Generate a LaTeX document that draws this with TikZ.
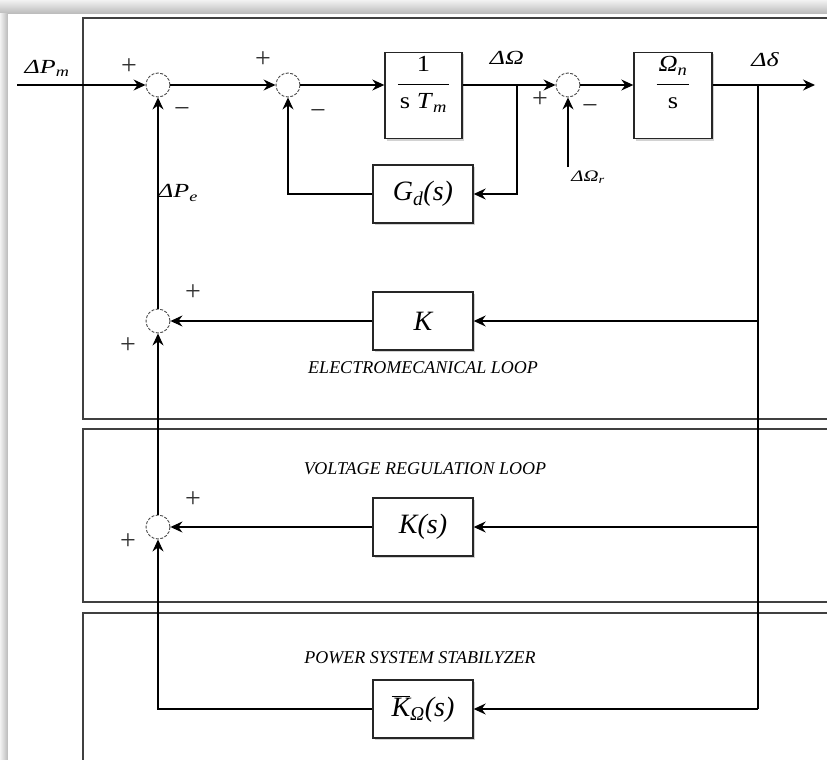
\documentclass[tikz,border=0pt]{standalone}
\usepackage{fontspec}
\setmainfont{Liberation Serif}
\newfontfamily\widefont[FakeStretch=1.3]{Liberation Serif}
\newfontfamily\midfont[FakeStretch=1.15]{Liberation Serif}
\usetikzlibrary{
  arrows.meta,   % Stealth tips
  calc,          % coordinate calculations
  positioning,   % relative placement
  shadows        % block shadows
}
\tikzset{
  block/.style={
    draw=black!85,
    line width=1.4pt,
    fill=white,
    minimum width=100pt,
    minimum height=58pt,
    inner sep=0pt,
    font=\fontsize{28}{30}\selectfont\itshape,
    drop shadow={shadow xshift=2pt, shadow yshift=-2pt, opacity=0.35}
  },
  frac text/.style={
    font=\midfont\fontsize{23}{25}\selectfont,
    inner sep=0pt
  },
  sumnode/.style={
    circle,
    draw=gray!60!black,
    dash pattern=on 3pt off 1.5pt,
    line width=0.9pt,
    minimum size=24pt,
    inner sep=0pt
  },
  signal/.style={
    -{Stealth[length=12pt, width=11pt, inset=4pt]},
    line width=1.2pt
  },
  wire/.style={
    line width=1.2pt
  },
  panel/.style={
    draw=black!75,
    line width=1.8pt
  },
  sign/.style={
    font=\fontsize{28}{28}\selectfont,
    text=black!80,
    inner sep=0pt
  },
  sig label/.style={
    font=\widefont\fontsize{20}{20}\selectfont\itshape,
    inner sep=0pt
  },
  loop label/.style={
    font=\fontsize{18}{18}\selectfont\itshape,
    inner sep=0pt
  }
}

\begin{document}
\begin{tikzpicture}[x=10pt, y=-10pt]

  \useasboundingbox (0,0) rectangle (82.7,76.0);

  % ======================= frame and panels =======================
  \fill[gray!30] (0,0) rectangle (82.7,76.0);
  \shade[top color=gray!10, bottom color=gray!55] (0,0) rectangle (82.7,1.4);
  \shade[left color=gray!10, right color=gray!55] (0,1.4) rectangle (0.8,76.0);
  \fill[white] (0.8,1.4) rectangle (82.7,76.0);

  \draw[panel] (8.3,1.8) rectangle (84,41.9);   % electromecanical loop
  \draw[panel] (8.3,42.9) rectangle (84,60.2);  % voltage regulation loop
  \draw[panel] (8.3,61.3) rectangle (84,78);    % power system stabilyzer

  % ======================= summing points =======================
  \node[sumnode] (s1) at (15.8,8.5) {};
  \node[sumnode] (s2) at (28.8,8.5) {};
  \node[sumnode] (s3) at (56.8,8.5) {};
  \node[sumnode] (s4) at (15.8,32.1) {};
  \node[sumnode] (s5) at (15.8,52.7) {};

  % ======================= blocks =======================
  \node[block, minimum width=77pt, minimum height=86pt] (b1) at (42.35,9.55) {};
  \node[block, minimum width=78pt, minimum height=86pt] (b2) at (67.3,9.55) {};
  \node[frac text] (b1txt) at (b1 |- s1)
    {\begin{tabular}{@{\hspace{2pt}}c@{\hspace{2pt}}}1\\[5pt]\hline\rule{0pt}{24pt}s \textit{T}\textsubscript{\textit{m}}\end{tabular}};
  \node[frac text] (b2txt) at (b2 |- s1)
    {\begin{tabular}{@{\hspace{2pt}}c@{\hspace{2pt}}}\textit{Ω}\textsubscript{\textit{n}}\\[5pt]\hline\rule{0pt}{24pt}s\end{tabular}};
  \node[block] (gd) at (42.3,19.4) {G\textsubscript{d}(s)};
  \node[block] (k)  at (42.3,32.1) {K};
  \node[block] (ks) at (42.3,52.7) {K(s)};
  \node[block] (kw) at (42.3,70.9) {$\overline{\mbox{\itshape K}}$\textsubscript{Ω}(s)};

  % free ends and branch points
  \coordinate (in)  at (1.7,8.5);
  \coordinate (out) at (81.5,8.5);
  \coordinate (brw) at (51.7,8.5);   % branch of delta Omega
  \coordinate (brd) at (75.8,8.5);   % branch of delta delta
  \coordinate (wr)  at (56.8,16.7);  % reference speed input

  % ======================= forward path =======================
  \draw[signal] (in) -- (s1);
  \draw[signal] (s1) -- (s2);
  \draw[signal] (s2) -- (s2 -| b1.west);
  \draw[wire] (s2 -| b1.east) -- (brw);
  \draw[signal] (brw) -- (s3);
  \draw[signal] (s3) -- (s3 -| b2.west);
  \draw[signal] (s3 -| b2.east) -- (out);
  \draw[signal] (wr) -- (s3);

  % damping loop
  \draw[signal] (brw) |- (gd);
  \draw[signal] (gd) -| (s2);

  % ======================= feedback loops =======================
  \draw[wire] (brd) -- (brd |- kw);
  \draw[signal] (brd |- k) -- (k);
  \draw[signal] (brd |- ks) -- (ks);
  \draw[signal] (brd |- kw) -- (kw);
  \draw[signal] (k) -- (s4);
  \draw[signal] (ks) -- (s5);
  \draw[signal] (kw) -| (s5);
  \draw[signal] (s5) -- (s4);
  \draw[signal] (s4) -- (s1);

  % ======================= labels =======================
  \node[sig label] (pm) at (4.7,6.8) {ΔP\textsubscript{m}};
  \node[sig label] (pe) at (17.8,19.3) {ΔP\textsubscript{e}};
  \node[sig label] (dw) at (50.7,5.8) {ΔΩ};
  \node[sig label] (dd) at (76.5,6.0) {Δδ};
  \node[sig label, font=\widefont\fontsize{16}{16}\selectfont\itshape] (dwr) at (58.8,17.7) {ΔΩ\textsubscript{r}};

  \node[sign] at (12.9,6.7) {+};
  \node[sign] at (18.2,11.3) {−};
  \node[sign] at (26.3,6.0) {+};
  \node[sign] at (31.8,11.5) {−};
  \node[sign] at (54.0,10.0) {+};
  \node[sign] at (59.0,11.0) {−};
  \node[sign] at (19.3,29.3) {+};
  \node[sign] at (12.8,34.6) {+};
  \node[sign] at (19.3,50.0) {+};
  \node[sign] at (12.8,54.2) {+};

  \node[loop label] (el) at (42.3,36.8) {ELECTROMECANICAL LOOP};
  \node[loop label] (vr) at (42.5,46.9) {VOLTAGE REGULATION LOOP};
  \node[loop label] (ps) at (42.0,65.8) {POWER SYSTEM STABILYZER};

\end{tikzpicture}
\end{document}
